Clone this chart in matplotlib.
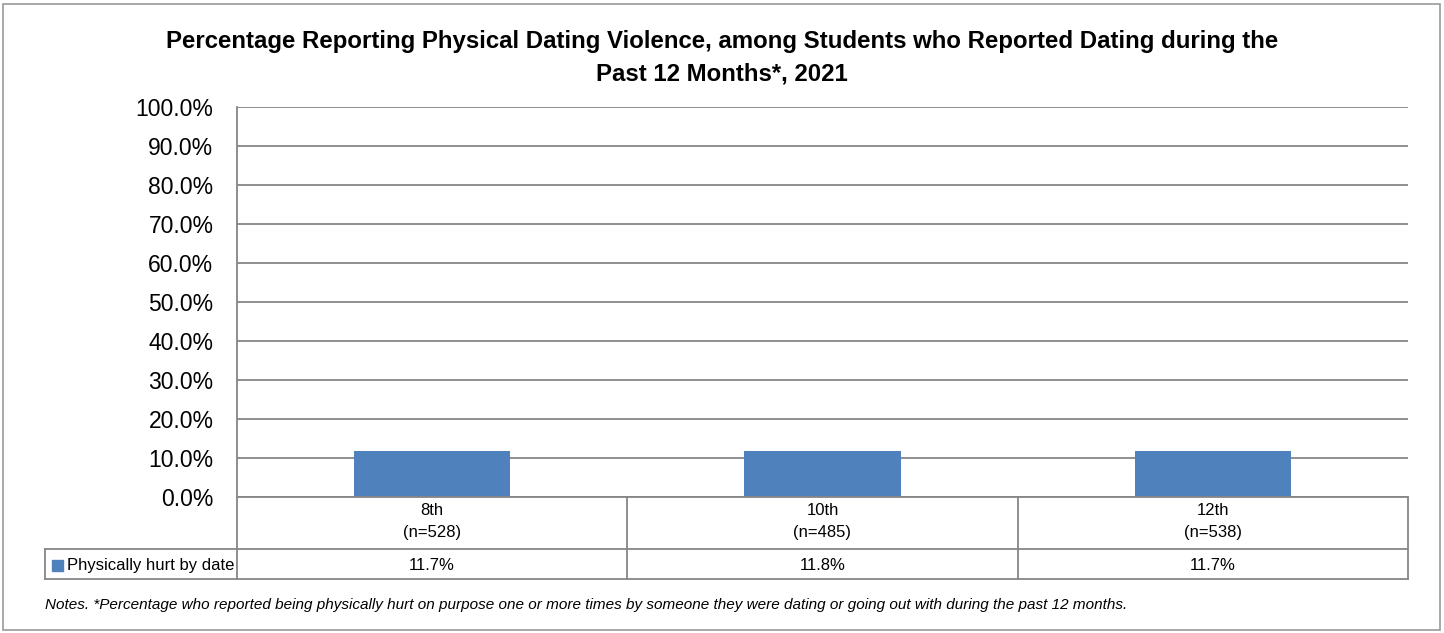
import matplotlib
import matplotlib.pyplot as plt
from matplotlib.patches import Rectangle

matplotlib.use("Agg")

grades = ["8th", "10th", "12th"]
sample_sizes = [528, 485, 538]
hurt_pct = [11.7, 11.8, 11.7]
series_name = "Physically hurt by date"
y_ticks = [0, 10, 20, 30, 40, 50, 60, 70, 80, 90, 100]

title = ("Percentage Reporting Physical Dating Violence, among Students who Reported Dating during the\n"
         "Past 12 Months*, 2021")
note = ("Notes. *Percentage who reported being physically hurt on purpose one or more times by someone "
        "they were dating or going out with during the past 12 months.")

plt.rcParams["font.family"] = ["Liberation Sans", "DejaVu Sans"]

BLUE = "#4f81bd"
GRAY = "#868686"
W, H = 1444, 633

fig = plt.figure(figsize=(W / 100, H / 100), dpi=100, facecolor="white")


def px_rect(x0, y0, x1, y1):
    return [x0 / W, 1 - y1 / H, (x1 - x0) / W, (y1 - y0) / H]


# outer frame
fig.patches.append(Rectangle((3 / W, 3 / H), (W - 7) / W, (H - 7) / H, transform=fig.transFigure,
                             fill=False, edgecolor="#9a9a9a", linewidth=1.2))

ax = fig.add_axes(px_rect(237, 107, 1408, 497))
x = list(range(len(grades)))
ax.bar(x, hurt_pct, width=0.4, color=BLUE, zorder=3)
ax.set_xlim(-0.5, len(grades) - 0.5)
ax.set_ylim(0, 100)
ax.set_yticks(y_ticks)
ax.set_yticklabels([f"{v:.1f}%" for v in y_ticks], fontsize=16.5)
ax.yaxis.grid(True, color=GRAY, linewidth=1.3, zorder=0)
ax.set_xticks([])
for side in ["top", "right", "bottom"]:
    ax.spines[side].set_visible(False)
ax.spines["left"].set_color(GRAY)
ax.spines["left"].set_linewidth(1.3)
ax.tick_params(axis="y", length=0, pad=17)

# data table below the plot
legend_w = 192 / ((1408 - 237) / len(grades))
tax = fig.add_axes(px_rect(45, 497, 1408, 579))
tax.set_xlim(-0.5 - legend_w, len(grades) - 0.5)
tax.set_ylim(0, 82)
tax.axis("off")
row_split = 30
lw = 1.3
tax.plot([-0.5, len(grades) - 0.5], [82, 82], color=GRAY, lw=lw, clip_on=False)
tax.plot([-0.5 - legend_w, len(grades) - 0.5], [row_split, row_split], color=GRAY, lw=lw, clip_on=False)
tax.plot([-0.5 - legend_w, len(grades) - 0.5], [0, 0], color=GRAY, lw=lw, clip_on=False)
tax.plot([-0.5 - legend_w, -0.5 - legend_w], [0, row_split], color=GRAY, lw=lw, clip_on=False)
for b in range(len(grades) + 1):
    tax.plot([b - 0.5, b - 0.5], [0, 82], color=GRAY, lw=lw, clip_on=False)
for i, (g, n, v) in enumerate(zip(grades, sample_sizes, hurt_pct)):
    tax.text(i, (82 + row_split) / 2 + 1.5, f"{g}\n(n={n})", ha="center", va="center", fontsize=12,
             linespacing=1.65)
    tax.text(i, row_split / 2 - 1.5, f"{v:.1f}%", ha="center", va="center", fontsize=12)
tax.add_patch(Rectangle((-0.5 - legend_w + 0.018, row_split / 2 - 7), 0.028, 11, color=BLUE))
tax.text(-0.5 - legend_w + 0.056, row_split / 2 - 1.5, series_name, ha="left", va="center", fontsize=12)

fig.text(0.5, 1 - 58 / H, title, ha="center", va="center", fontsize=17.3, fontweight="bold",
         linespacing=1.55)
fig.text(45 / W, 1 - 605 / H, note, ha="left", va="center", fontsize=11, style="italic")

fig.savefig("out.png", dpi=100, facecolor="white")
